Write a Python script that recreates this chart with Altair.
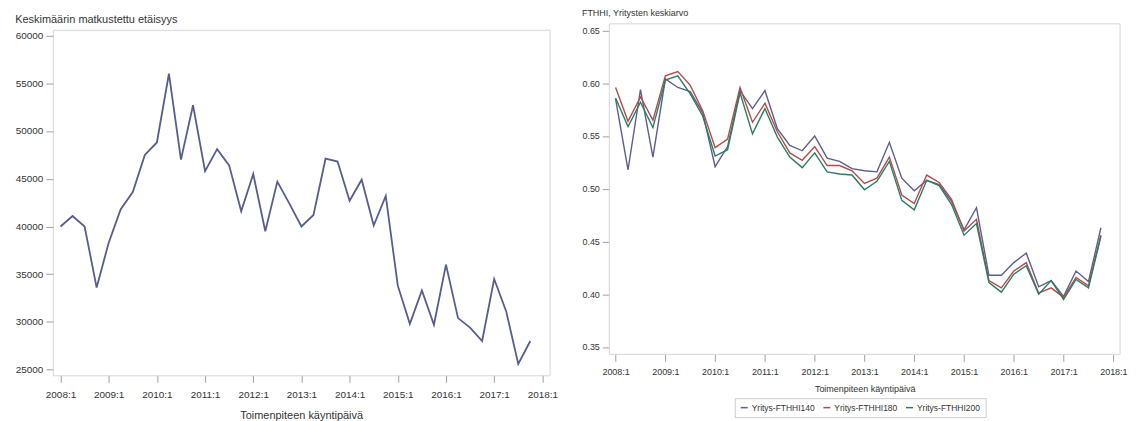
import altair as alt
import pandas as pd

periods = [f"{y}:{q}" for y in range(2008, 2018) for q in range(1, 5)]

distance = [40000, 41100, 40000, 33600, 38300, 41800, 43600, 47500,
            48800, 56000, 47000, 52700, 45800, 48100, 46400, 41600,
            45500, 39500, 44700, 42400, 40000, 41200, 47100, 46800,
            42700, 44900, 40100, 43200, 33800, 29800, 33300, 29700,
            36000, 30400, 29400, 28000, 34500, 31100, 25600, 28000]

fthhi140 = [0.585, 0.518, 0.594, 0.530, 0.604, 0.596, 0.592, 0.572,
            0.521, 0.540, 0.593, 0.576, 0.593, 0.557, 0.541, 0.536,
            0.550, 0.529, 0.526, 0.519, 0.517, 0.516, 0.544, 0.510,
            0.498, 0.508, 0.504, 0.488, 0.461, 0.482, 0.418, 0.418,
            0.430, 0.439, 0.407, 0.413, 0.398, 0.422, 0.412, 0.463]
fthhi180 = [0.596, 0.564, 0.587, 0.565, 0.607, 0.611, 0.598, 0.574,
            0.539, 0.547, 0.596, 0.563, 0.581, 0.554, 0.534, 0.527,
            0.540, 0.522, 0.522, 0.517, 0.505, 0.510, 0.530, 0.494,
            0.486, 0.513, 0.506, 0.490, 0.460, 0.471, 0.413, 0.406,
            0.422, 0.430, 0.401, 0.406, 0.397, 0.416, 0.408, 0.456]
fthhi200 = [0.586, 0.559, 0.582, 0.558, 0.603, 0.607, 0.590, 0.569,
            0.531, 0.537, 0.591, 0.552, 0.576, 0.549, 0.530, 0.520,
            0.534, 0.516, 0.514, 0.513, 0.499, 0.507, 0.526, 0.489,
            0.480, 0.508, 0.503, 0.485, 0.456, 0.467, 0.411, 0.402,
            0.419, 0.427, 0.400, 0.413, 0.395, 0.414, 0.406, 0.455]

series_names = ["Yritys-FTHHI140", "Yritys-FTHHI180", "Yritys-FTHHI200"]
series_colors = ["#5b5e8e", "#b14c4a", "#2c7c60"]
year_ticks = list(range(2008, 2019))

def period_to_t(p):
    y, q = p.split(":")
    return int(y) + (int(q) - 1) / 4

t_vals = [period_to_t(p) for p in periods]

left_df = pd.DataFrame({"period": periods, "t": t_vals, "value": distance})
right_df = pd.concat([
    pd.DataFrame({"period": periods, "t": t_vals, "value": vals, "series": name})
    for name, vals in zip(series_names, [fthhi140, fthhi180, fthhi200])
])

FONT = "Arial"
TXT = "#333333"
TICK = "#a0a0a0"
FRAME = "#d6d6d6"
label_expr = "format(datum.value, 'd') + ':1'"

# right panel sits 6px higher than the left one
RW, RH, SHIFT = 513, 326, 6

left = alt.Chart(left_df).mark_line(color="#575d8e", strokeWidth=1.8).encode(
    x=alt.X("t:Q",
            scale=alt.Scale(domain=[2007.84, 2018.15], nice=False, zero=False),
            axis=alt.Axis(values=year_ticks, labelExpr=label_expr, grid=False, domain=False,
                          tickSize=7, tickColor=TICK, labelPadding=7, labelFontSize=10,
                          labelFont=FONT, labelColor=TXT, title="Toimenpiteen käyntipäivä",
                          titleFont=FONT, titleFontSize=11, titleFontWeight="normal",
                          titleColor=TXT, titlePadding=10, labelFlush=False, labelOverlap=False)),
    y=alt.Y("value:Q",
            scale=alt.Scale(domain=[24410, 60600], nice=False, zero=False),
            axis=alt.Axis(values=list(range(25000, 60001, 5000)), format="d", grid=False,
                          domain=False, tickSize=7, tickColor=TICK, labelPadding=3,
                          labelFontSize=10, labelFont=FONT, labelColor=TXT, title=None)),
).properties(
    width=499, height=347,
    title=alt.TitleParams("Keskimäärin matkustettu etäisyys", anchor="start", frame="bounds",
                          font=FONT, fontSize=11, fontWeight="normal", color=TXT, offset=5),
)

frame = alt.Chart(pd.DataFrame({"a": [0]})).mark_rect(
    fillOpacity=0, stroke=FRAME, strokeWidth=1
).encode(
    x=alt.value(0), x2=alt.value(RW), y=alt.value(-SHIFT), y2=alt.value(RH)
)

lines = alt.Chart(right_df).mark_line(strokeWidth=1.4).encode(
    x=alt.X("t:Q",
            scale=alt.Scale(domain=[2007.874, 2018.134], nice=False, zero=False),
            axis=alt.Axis(values=year_ticks, labelExpr=label_expr, grid=False, domain=False,
                          tickSize=7, tickColor=TICK, labelPadding=6, labelFontSize=9,
                          labelFont=FONT, labelColor=TXT, title="Toimenpiteen käyntipäivä",
                          titleFont=FONT, titleFontSize=9, titleFontWeight="normal",
                          titleColor=TXT, titlePadding=8, labelFlush=False, labelOverlap=False)),
    y=alt.Y("value:Q",
            scale=alt.Scale(domain=[0.343, 0.6563], range=[RH, -SHIFT], nice=False, zero=False),
            axis=alt.Axis(values=[0.35, 0.40, 0.45, 0.50, 0.55, 0.60, 0.65], format=".2f",
                          grid=False, domain=False, tickSize=7, tickColor=TICK, labelPadding=3,
                          labelFontSize=9, labelFont=FONT, labelColor=TXT, title=None)),
    color=alt.Color("series:N",
                    scale=alt.Scale(domain=series_names, range=series_colors),
                    legend=alt.Legend(title=None, orient="none", direction="horizontal",
                                      legendX=126, legendY=370, symbolType="stroke",
                                      symbolSize=49, symbolStrokeWidth=1.5, labelFont=FONT,
                                      labelFontSize=8.5, labelColor=TXT, labelOffset=3,
                                      columnPadding=5, padding=5, strokeColor="#cccccc",
                                      fillColor="white")),
    detail="series:N",
)

right = alt.layer(frame, lines).properties(
    width=RW, height=RH,
    view=alt.ViewBackground(strokeOpacity=0),
    title=alt.TitleParams("FTHHI, Yritysten keskiarvo", anchor="start", frame="bounds",
                          font=FONT, fontSize=9, fontWeight="normal", color=TXT, offset=5),
)

chart = alt.hconcat(left, right, spacing=23).resolve_legend(
    color="independent"
).resolve_scale(color="independent").properties(
    padding={"left": 6, "top": 0, "right": 0, "bottom": 0}
).configure_view(stroke=FRAME, strokeWidth=1)

chart.save("out.html", embed_options={"renderer": "svg", "actions": False})
